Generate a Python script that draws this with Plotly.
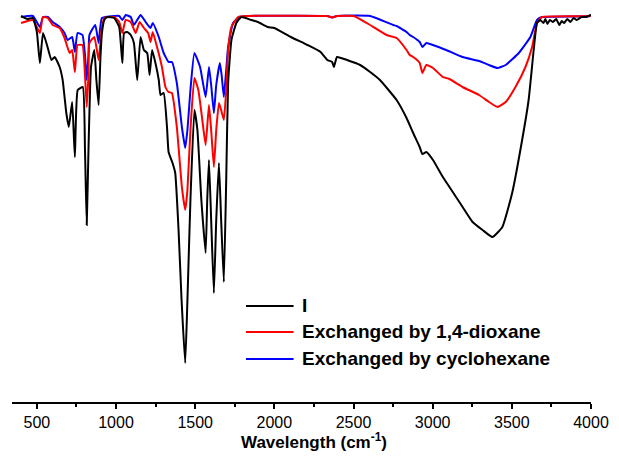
import plotly.graph_objects as go

# Wavenumber (cm-1) and relative transmittance (a.u.)
wn_I = [400, 440, 475, 500, 519, 539, 564, 592, 613, 644, 663, 675, 686, 702, 723, 740, 758, 790, 804, 815, 826, 842,
        863, 876, 890, 901, 911, 926, 944, 988, 1020, 1040, 1051, 1071, 1093, 1113, 1134, 1155, 1176, 1197, 1212,
        1228, 1249, 1270, 1281, 1301, 1322, 1332, 1357, 1374, 1395, 1414, 1437, 1451, 1470, 1495, 1514, 1539, 1566,
        1576, 1587, 1601, 1618, 1633, 1650, 1664, 1681, 1696, 1708, 1729, 1760, 1791, 1854, 1896, 1958, 2000, 2104,
        2209, 2292, 2334, 2365, 2376, 2396, 2459, 2542, 2605, 2667, 2772, 2835, 2877, 2918, 2935, 2960, 3002, 3064,
        3106, 3189, 3252, 3315, 3377, 3440, 3502, 3565, 3606, 3638, 3659, 3680, 3700, 3712, 3725, 3740, 3760, 3780,
        3800, 3815, 3830, 3850, 3870, 3890, 3910, 3940, 3970, 4000]
T_I = [386, 383, 384, 370, 339, 369, 357, 342, 345, 335, 322, 305, 289, 275, 300, 245, 312, 315, 252, 177, 252, 335,
       352, 322, 297, 342, 369, 382, 385, 384, 375, 339, 369, 370, 367, 359, 322, 365, 352, 349, 327,
       352, 339, 322, 307, 309, 275, 250, 239, 229, 172, 102, 39, 102, 202, 292, 272, 202, 149,
       202, 242, 182, 109, 182, 239, 182, 120, 222, 319, 362, 379, 385, 382, 380, 375, 374, 365,
       357, 350, 342, 340, 335, 345, 342, 337, 330, 322, 302, 284, 269, 255, 248, 250, 242, 225,
       215, 195, 180, 172, 165, 175, 209, 262, 302, 352, 379, 382, 379, 383, 378, 382, 380, 383,
       377, 381, 379, 383, 380, 384, 382, 385, 385, 387]

wn_D = [400, 475, 519, 538, 569, 600, 644, 675, 707, 723, 740, 757, 788, 804, 815, 826, 832, 863, 890, 911, 926, 988,
        1020, 1040, 1061, 1093, 1124, 1149, 1176, 1203, 1218, 1232, 1259, 1290, 1312, 1332, 1353, 1384, 1416, 1437,
        1451, 1470, 1495, 1520, 1545, 1566, 1587, 1601, 1618, 1633, 1650, 1664, 1681, 1696, 1708, 1729, 1771, 1833,
        2334, 2365, 2396, 2501, 2584, 2709, 2772, 2835, 2855, 2877, 2918, 2935, 2960, 3002, 3064, 3106, 3189, 3293,
        3356, 3409, 3461, 3523, 3586, 3628, 3659, 3690, 3993, 4000]
T_D = [379, 382, 369, 385, 384, 377, 374, 364, 349, 352, 330, 357, 357, 327, 295, 327, 359, 365, 342, 375, 384, 385,
       380, 369, 382, 380, 369, 380, 374, 369, 360, 370, 355, 335, 315, 310, 309, 275, 215, 192,
       212, 272, 324, 312, 282, 257, 297, 272, 235, 272, 299, 292, 282, 312, 352, 375, 385, 386,
       386, 384.5, 386, 386, 379, 367, 364, 352, 347, 345, 339, 329, 337, 334, 325, 323, 315, 307,
       300, 295, 300, 315, 335, 355, 379, 385, 386, 387]

wn_C = [400, 475, 519, 539, 569, 600, 644, 675, 694, 723, 740, 757, 788, 804, 815, 826, 832, 869, 890, 911, 988, 1020,
        1040, 1061, 1093, 1113, 1155, 1187, 1218, 1232, 1270, 1301, 1332, 1353, 1384, 1416, 1437, 1451, 1470, 1495,
        1531, 1566, 1587, 1601, 1618, 1633, 1656, 1667, 1681, 1696, 1708, 1739, 1781, 1833, 2334, 2365, 2396, 2605,
        2751, 2772, 2835, 2855, 2877, 2918, 2935, 2960, 3002, 3085, 3189, 3293, 3356, 3409, 3461, 3544, 3617, 3659,
        3690, 3993, 4000]
T_C = [385, 386, 375, 385, 385, 380, 375, 369, 362, 365, 350, 369, 367, 347, 322, 347, 367, 377, 359, 384, 386, 386,
       382, 387, 385, 377, 387, 380, 374, 379, 365, 349, 340, 340, 319, 275, 254, 272, 312, 349,
       335, 305, 335, 317, 289, 317, 339, 327, 305, 332, 355, 379, 385, 386, 386, 384.5, 386, 386,
       377, 376, 370, 367, 365, 360, 355, 359, 357, 352, 345, 341, 337, 334, 337, 349, 365, 382,
       385, 386, 387]

names = ["I", "Exchanged by 1,4-dioxane", "Exchanged by cyclohexane"]
colors = ["#000000", "#ff0000", "#0000ff"]
tick_vals = [500, 1000, 1500, 2000, 2500, 3000, 3500, 4000]

FONT = "Arial, Liberation Sans, sans-serif"

fig = go.Figure()
for wn, T, nm, c in [(wn_I, T_I, names[0], colors[0]), (wn_D, T_D, names[1], colors[1]),
                     (wn_C, T_C, names[2], colors[2])][::-1]:
    fig.add_trace(go.Scatter(x=wn, y=T, mode="lines", name=nm,
                             line=dict(color=c, width=2, shape="spline", smoothing=0.4),
                             showlegend=False))

# manual legend (paper coords)
rows = [0.2449, 0.1786, 0.1097]
for r, nm, c in zip(rows, names, colors):
    fig.add_shape(type="line", xref="paper", yref="paper", x0=0.4041, x1=0.4863, y0=r, y1=r,
                  line=dict(color=c, width=2))
    fig.add_annotation(xref="paper", yref="paper", x=0.4966, y=r, text="<b>%s</b>" % nm,
                       showarrow=False, xanchor="left", yanchor="middle",
                       font=dict(family=FONT, size=19, color="black"))

fig.add_annotation(xref="paper", yref="paper", x=0.522, y=-0.1,
                   text="<b>Wavelength (cm<sup>-1</sup>)</b>", showarrow=False,
                   xanchor="center", yanchor="middle", font=dict(family=FONT, size=17, color="black"))

fig.update_layout(
    width=619, height=475,
    margin=dict(l=12, r=23, t=10, b=73),
    paper_bgcolor="white", plot_bgcolor="white",
    font=dict(family=FONT, color="black"),
    xaxis=dict(range=[343, 4000], tickvals=tick_vals, ticks="outside", ticklen=5, tickwidth=1.5,
               tickcolor="black", showline=True, linecolor="black", linewidth=1.5, showgrid=False,
               zeroline=False, tickfont=dict(family=FONT, size=16, color="black"),
               minor=dict(tickvals=[750, 1250, 1750, 2250, 2750, 3250, 3750], ticks="outside",
                          ticklen=3, tickwidth=1.5, tickcolor="black")),
    yaxis=dict(range=[0, 392], visible=False, showgrid=False, zeroline=False),
)

fig.write_html("out.html")
